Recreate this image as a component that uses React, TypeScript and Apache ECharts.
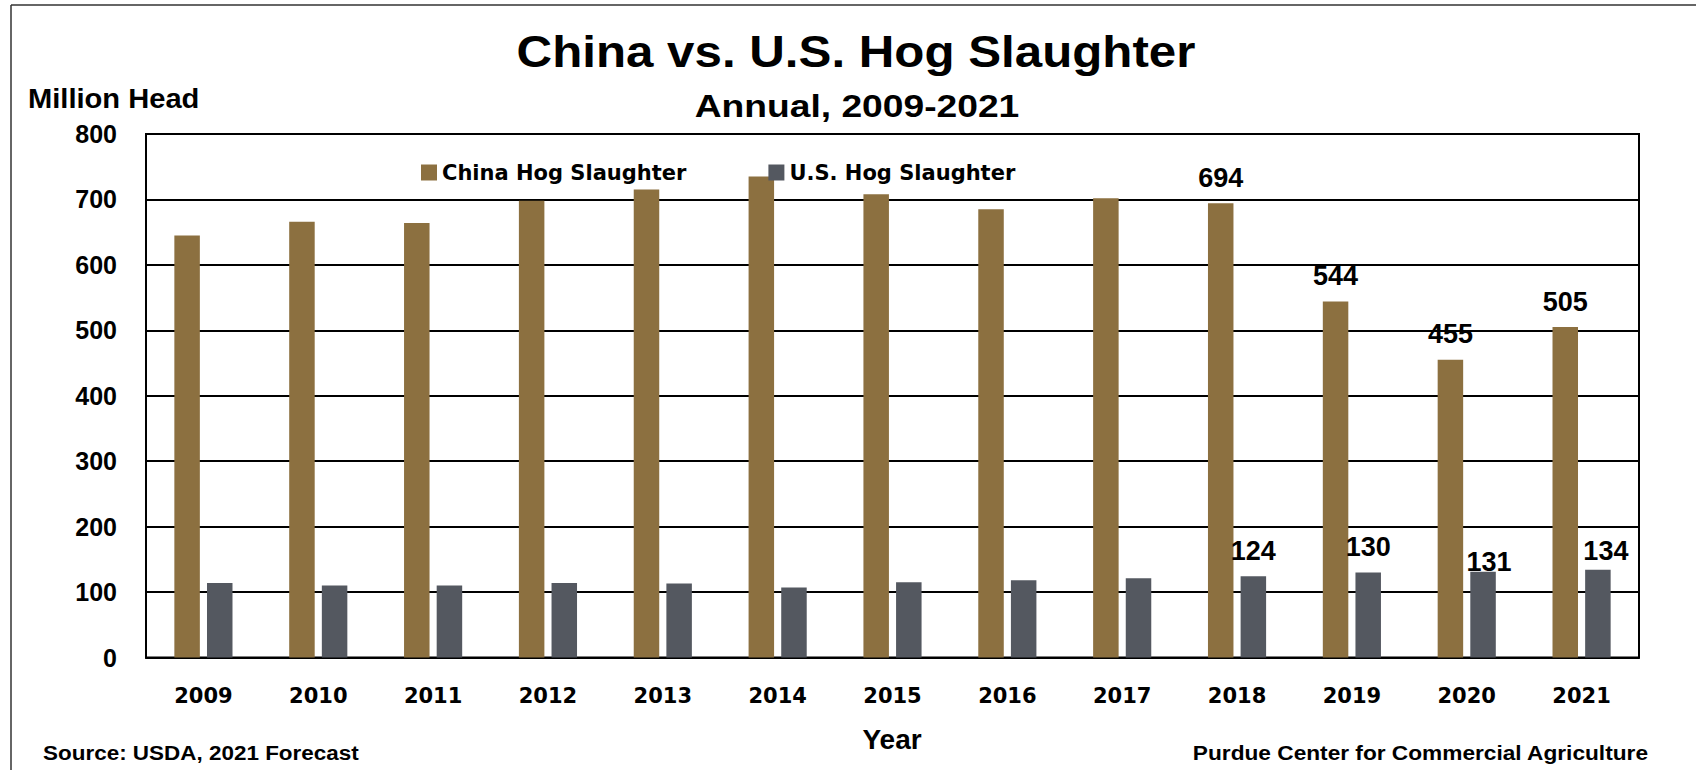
import React, { useEffect, useRef } from "react";
import * as echarts from "echarts";

const years = ["2009", "2010", "2011", "2012", "2013", "2014", "2015", "2016", "2017", "2018", "2019", "2020", "2021"];
const chinaSlaughter = [645, 666, 664, 698, 715, 735, 708, 685, 702, 694, 544, 455, 505];
const usSlaughter = [114, 110, 110, 114, 113, 107, 115, 118, 121, 124, 130, 131, 134];
const labeledYears = ["2018", "2019", "2020", "2021"];
const seriesNames = ["China Hog Slaughter", "U.S. Hog Slaughter"];
const yMin = 0;
const yMax = 800;
const yInterval = 100;
const titleText = "China vs. U.S. Hog Slaughter";
const subtitleText = "Annual, 2009-2021";
const yAxisTitle = "Million Head";
const xAxisTitle = "Year";
const sourceText = "Source: USDA, 2021 Forecast";
const creditText = "Purdue Center for Commercial Agriculture";

const CHINA_COLOR = "#8C7040";
const US_COLOR = "#545860";
const ARIAL = "'Liberation Sans', Arial, sans-serif";
const DEJAVU = "'DejaVu Sans', sans-serif";

// label nudges (styling, not data)
const usLabelOffsets: Record<string, number[]> = { "2020": [6, 16], "2021": [8, 7] };

function buildData(values: number[], offsets: Record<string, number[]>) {
  return values.map((v, i) => {
    const yr = years[i];
    if (labeledYears.indexOf(yr) < 0) return v;
    return {
      value: v,
      label: {
        show: true,
        position: "top",
        distance: 12,
        offset: offsets[yr] || [0, 0],
        fontFamily: ARIAL,
        fontWeight: "bold",
        fontSize: 27,
        color: "#000",
      },
    };
  });
}

export default function App() {
  const ref = useRef<HTMLDivElement>(null);
  useEffect(() => {
    if (!ref.current) return;
    const chart = echarts.init(ref.current, null, { renderer: "svg" });
    chart.setOption({
      animation: false,
      backgroundColor: "#fff",
      grid: {
        left: 146,
        right: 57,
        top: 134,
        bottom: 112.5,
        show: true,
        borderColor: "#000",
        borderWidth: 2,
        backgroundColor: "transparent",
        outerBoundsMode: "none",
      },
      legend: {
        data: seriesNames,
        icon: "rect",
        itemWidth: 16,
        itemHeight: 16,
        itemGap: 82,
        left: 416,
        top: 157,
        textStyle: { fontFamily: DEJAVU, fontWeight: "bold", fontSize: 21, color: "#000" },
      },
      xAxis: {
        type: "category",
        data: years,
        axisTick: { show: false },
        axisLine: { show: true, lineStyle: { color: "#000", width: 2 } },
        axisLabel: {
          margin: 28,
          fontFamily: DEJAVU,
          fontWeight: "bold",
          fontSize: 21,
          color: "#000",
        },
      },
      yAxis: {
        type: "value",
        min: yMin,
        max: yMax,
        interval: yInterval,
        axisLine: { show: true, lineStyle: { color: "#000", width: 2 } },
        axisTick: { show: false },
        splitLine: { show: true, lineStyle: { color: "#000", width: 2 } },
        axisLabel: {
          margin: 29,
          fontFamily: ARIAL,
          fontWeight: "bold",
          fontSize: 25,
          color: "#000",
        },
      },
      series: [
        {
          name: seriesNames[0],
          type: "bar",
          barWidth: 25.5,
          barGap: "28%",
          itemStyle: { color: CHINA_COLOR },
          data: buildData(chinaSlaughter, {}),
        },
        {
          name: seriesNames[1],
          type: "bar",
          barWidth: 25.5,
          barGap: "28%",
          itemStyle: { color: US_COLOR },
          data: buildData(usSlaughter, usLabelOffsets),
        },
      ],
      graphic: [
        {
          type: "line",
          shape: { x1: 11, y1: 5, x2: 1700, y2: 5 },
          style: { stroke: "#333", lineWidth: 1.5 },
        },
        {
          type: "line",
          shape: { x1: 11, y1: 5, x2: 11, y2: 775 },
          style: { stroke: "#333", lineWidth: 1.5 },
        },
        {
          type: "text",
          x: 856,
          y: 52,
          scaleX: 1.12,
          style: {
            text: titleText,
            font: `bold 44px ${ARIAL}`,
            fill: "#000",
            align: "center",
            verticalAlign: "middle",
          },
        },
        {
          type: "text",
          x: 857,
          y: 106,
          scaleX: 1.2,
          style: {
            text: subtitleText,
            font: `bold 31px ${ARIAL}`,
            fill: "#000",
            align: "center",
            verticalAlign: "middle",
          },
        },
        {
          type: "text",
          x: 28,
          y: 98,
          scaleX: 1.04,
          style: {
            text: yAxisTitle,
            font: `bold 28px ${ARIAL}`,
            fill: "#000",
            align: "left",
            verticalAlign: "middle",
          },
        },
        {
          type: "text",
          x: 892,
          y: 739,
          style: {
            text: xAxisTitle,
            font: `bold 28px ${ARIAL}`,
            fill: "#000",
            align: "center",
            verticalAlign: "middle",
          },
        },
        {
          type: "text",
          x: 43,
          y: 753,
          scaleX: 1.07,
          style: {
            text: sourceText,
            font: `bold 21px ${ARIAL}`,
            fill: "#000",
            align: "left",
            verticalAlign: "middle",
          },
        },
        {
          type: "text",
          x: 1648,
          y: 753,
          scaleX: 1.08,
          style: {
            text: creditText,
            font: `bold 21px ${ARIAL}`,
            fill: "#000",
            align: "right",
            verticalAlign: "middle",
          },
        },
      ],
    });
    return () => chart.dispose();
  }, []);
  return (
    <div
      ref={ref}
      style={{ position: "fixed", left: 0, top: 0, width: 1696, height: 770, background: "#fff" }}
    />
  );
}
